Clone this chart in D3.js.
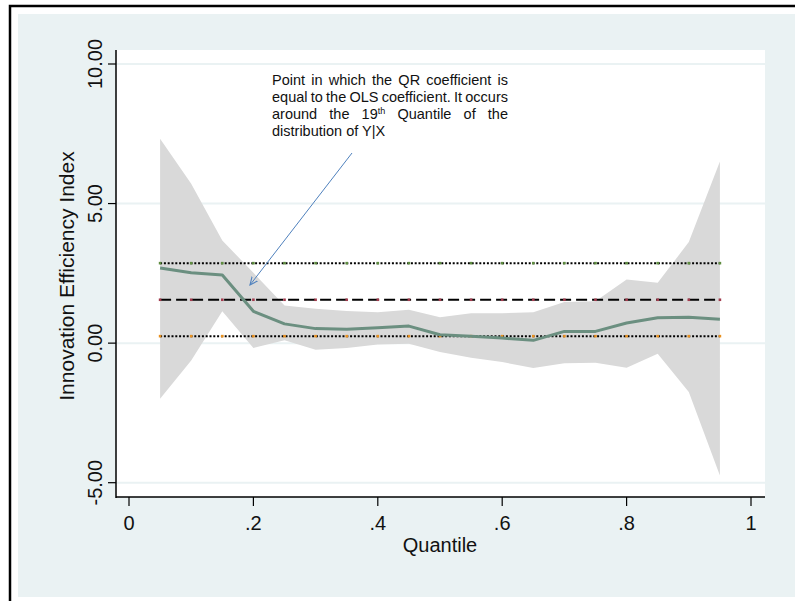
<!DOCTYPE html>
<html>
<head>
<meta charset="utf-8">
<script src="https://cdn.jsdelivr.net/npm/d3@7"></script>
<style>
  body { margin: 0; background: #fff; }
  svg { display: block; font-family: "Liberation Sans", Arial, sans-serif; }
</style>
</head>
<body>
<div id="chart"></div>
<script>
// Quantile regression coefficients and 95% band
const quantiles = [0.05, 0.10, 0.15, 0.20, 0.25, 0.30, 0.35, 0.40, 0.45, 0.50,
                   0.55, 0.60, 0.65, 0.70, 0.75, 0.80, 0.85, 0.90, 0.95];
const qrCoef  = [2.69, 2.52, 2.44, 1.14, 0.69, 0.52, 0.50, 0.55, 0.61, 0.30,
                 0.25, 0.18, 0.10, 0.42, 0.42, 0.72, 0.91, 0.93, 0.86];
const qrUpper = [7.32, 5.71, 3.68, 2.52, 1.35, 1.23, 1.15, 1.11, 1.20, 0.93,
                 1.07, 1.07, 1.11, 1.47, 1.50, 2.28, 2.16, 3.62, 6.51];
const qrLower = [-1.99, -0.62, 1.14, -0.17, 0.10, -0.24, -0.17, -0.05, -0.02, -0.32,
                 -0.52, -0.68, -0.89, -0.72, -0.70, -0.88, -0.38, -1.75, -4.74];
// OLS coefficient and its confidence limits
const olsCoef = 1.554;
const olsLower = 0.25;
const olsUpper = 2.865;

const xTicks = [0, 0.2, 0.4, 0.6, 0.8, 1];
const xTickLabels = ["0", ".2", ".4", ".6", ".8", "1"];
const yTicks = [-5, 0, 5, 10];
const yTickLabels = ["-5.00", "0.00", "5.00", "10.00"];
const noteLines = [
    "Point in which the QR coefficient is",
    "equal to the OLS coefficient. It occurs",
    "around the 19th Quantile of the",
    "distribution of Y|X"
];

const width = 795, height = 601;
const plot = { left: 116, top: 50, right: 765, bottom: 497 };

const svg = d3.select("#chart").append("svg")
    .attr("width", width)
    .attr("height", height);

// Outer frame and panel background
svg.append("rect").attr("x", 0).attr("y", 0).attr("width", width).attr("height", height).attr("fill", "#fff");
svg.append("rect")
    .attr("x", 18).attr("y", 14)
    .attr("width", width - 18).attr("height", 597 - 14)
    .attr("fill", "#eaf2f3");
svg.append("path")
    .attr("d", `M10,${height} L10,6 L${width},6`)
    .attr("fill", "none")
    .attr("stroke", "#000")
    .attr("stroke-width", 2.5);

// Plot region
svg.append("rect")
    .attr("x", plot.left).attr("y", plot.top)
    .attr("width", plot.right - plot.left).attr("height", plot.bottom - plot.top)
    .attr("fill", "#fff");

const x = d3.scaleLinear().domain([0, 1]).range([129, 751]);
const y = d3.scaleLinear().domain([-5, 10]).range([482.7, 64]);

// Grid lines
svg.append("g").selectAll("line")
    .data(yTicks)
    .enter().append("line")
    .attr("x1", plot.left).attr("x2", plot.right)
    .attr("y1", d => y(d)).attr("y2", d => y(d))
    .attr("stroke", "#eaf2f3")
    .attr("stroke-width", 2);

// Confidence band
const area = d3.area()
    .x((d, i) => x(quantiles[i]))
    .y0((d, i) => y(qrLower[i]))
    .y1((d, i) => y(qrUpper[i]));
svg.append("path")
    .datum(qrCoef)
    .attr("d", area)
    .attr("fill", "#d9d9d9");

// OLS lines with small markers
const olsLines = [
    { value: olsUpper, dash: "2,1.8", marker: "#5e8c3f" },
    { value: olsCoef, dash: "11,5", marker: "#a23c4e" },
    { value: olsLower, dash: "2,1.8", marker: "#e8901e" }
];
olsLines.forEach(l => {
    svg.append("line")
        .attr("x1", x(quantiles[0])).attr("x2", x(quantiles[quantiles.length - 1]))
        .attr("y1", y(l.value)).attr("y2", y(l.value))
        .attr("stroke", "#000")
        .attr("stroke-width", 2)
        .attr("stroke-dasharray", l.dash);
    svg.append("g").selectAll("rect")
        .data(quantiles)
        .enter().append("rect")
        .attr("x", d => x(d) - 1.3)
        .attr("y", y(l.value) - 1.3)
        .attr("width", 2.6).attr("height", 2.6)
        .attr("fill", l.marker);
});

// QR coefficient line
const line = d3.line()
    .x((d, i) => x(quantiles[i]))
    .y(d => y(d));
svg.append("path")
    .datum(qrCoef)
    .attr("d", line)
    .attr("fill", "none")
    .attr("stroke", "#6b8f80")
    .attr("stroke-width", 3)
    .attr("stroke-linejoin", "round");

// Axes
svg.append("line")
    .attr("x1", plot.left).attr("x2", plot.left)
    .attr("y1", plot.top).attr("y2", plot.bottom + 1)
    .attr("stroke", "#000").attr("stroke-width", 1.5);
svg.append("line")
    .attr("x1", plot.left).attr("x2", plot.right)
    .attr("y1", plot.bottom).attr("y2", plot.bottom)
    .attr("stroke", "#000").attr("stroke-width", 1.5);

const yAxis = svg.append("g");
yTicks.forEach((t, i) => {
    yAxis.append("line")
        .attr("x1", plot.left - 8).attr("x2", plot.left)
        .attr("y1", y(t)).attr("y2", y(t))
        .attr("stroke", "#000").attr("stroke-width", 1.2);
    yAxis.append("text")
        .attr("transform", `translate(102,${y(t)}) rotate(-90)`)
        .attr("text-anchor", "middle")
        .style("font-size", "20px")
        .attr("fill", "#111")
        .text(yTickLabels[i]);
});

const xAxis = svg.append("g");
xTicks.forEach((t, i) => {
    xAxis.append("line")
        .attr("x1", x(t)).attr("x2", x(t))
        .attr("y1", plot.bottom).attr("y2", plot.bottom + 9)
        .attr("stroke", "#000").attr("stroke-width", 1.2);
    xAxis.append("text")
        .attr("x", x(t)).attr("y", 530)
        .attr("text-anchor", "middle")
        .style("font-size", "20px")
        .attr("fill", "#111")
        .text(xTickLabels[i]);
});

// Axis titles
svg.append("text")
    .attr("transform", "translate(74,276) rotate(-90)")
    .attr("text-anchor", "middle")
    .style("font-size", "21px")
    .attr("fill", "#111")
    .text("Innovation Efficiency Index");
svg.append("text")
    .attr("x", 440).attr("y", 552)
    .attr("text-anchor", "middle")
    .style("font-size", "20px")
    .attr("fill", "#111")
    .text("Quantile");

// Annotation text, first three lines justified with word spacing
const noteWidth = 236;
const note = svg.append("g").style("font-size", "14.5px").attr("fill", "#111");
noteLines.forEach((s, i) => {
    const t = note.append("text")
        .attr("x", 272)
        .attr("y", 85 + i * 17);
    if (s.includes("19th")) {
        const parts = s.split("19th");
        t.append("tspan").text(parts[0] + "19");
        t.append("tspan").attr("dy", -5).style("font-size", "9px").text("th");
        t.append("tspan").attr("dy", 5).text(parts[1]);
    } else {
        t.text(s);
    }
    if (i < 3) {
        const w = t.node().getComputedTextLength();
        const gaps = s.split(" ").length - 1;
        t.style("word-spacing", ((noteWidth - w) / gaps) + "px");
    }
});

// Arrow pointing at the crossing
svg.append("defs").append("marker")
    .attr("id", "arrow")
    .attr("viewBox", "0 0 10 10")
    .attr("refX", 9).attr("refY", 5)
    .attr("markerWidth", 9).attr("markerHeight", 9)
    .attr("orient", "auto")
    .append("path")
    .attr("d", "M0,1 L9,5 L0,9")
    .attr("fill", "none")
    .attr("stroke", "#4f81bd")
    .attr("stroke-width", 1.2);
svg.append("line")
    .attr("x1", 352).attr("y1", 153)
    .attr("x2", 250).attr("y2", 285)
    .attr("stroke", "#4f81bd")
    .attr("stroke-width", 1)
    .attr("marker-end", "url(#arrow)");
</script>
</body>
</html>
